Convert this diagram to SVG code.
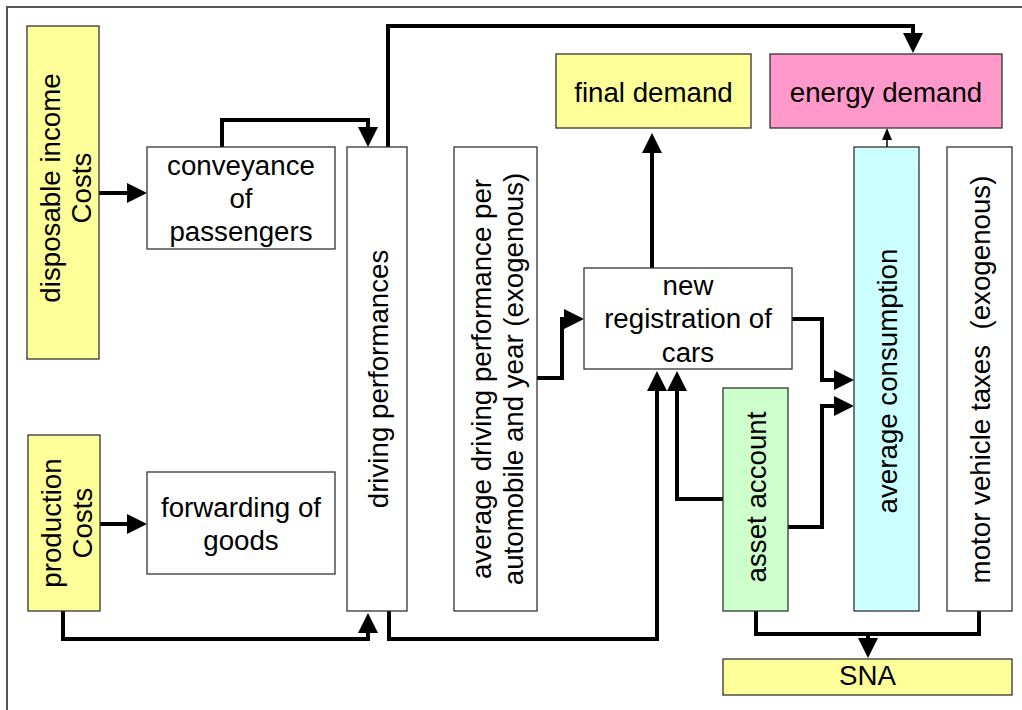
<svg xmlns="http://www.w3.org/2000/svg" width="1022" height="710" viewBox="0 0 1022 710">
<style>
  .bg { fill: #ffffff; }
  .frame { fill: none; stroke: #555555; stroke-width: 2; }
  .box { stroke: #333333; stroke-width: 1.3; }
  .white { fill: #ffffff; }
  .yellow { fill: #ffff99; }
  .pink { fill: #ff99cc; }
  .cyan { fill: #ccffff; }
  .green { fill: #ccffcc; }
  .lbl { font-family: "Liberation Sans", Arial, sans-serif; font-size: 27.7px; fill: #000000; text-anchor: middle; }
  .conn { fill: none; stroke: #000000; stroke-width: 4; stroke-linejoin: miter; stroke-linecap: butt; }
  .thin { fill: none; stroke: #000000; stroke-width: 1.5; }
</style>
<defs>
  <marker id="arr" markerUnits="userSpaceOnUse" markerWidth="20" markerHeight="20" refX="0" refY="10" orient="auto" viewBox="0 0 20 20">
    <path d="M0,0 L20,10 L0,20 Z" fill="#000000"/>
  </marker>
  <marker id="arrSmall" markerUnits="userSpaceOnUse" markerWidth="12" markerHeight="10" refX="0" refY="5" orient="auto" viewBox="0 0 12 10">
    <path d="M0,0 L12,5 L0,10 Z" fill="#000000"/>
  </marker>
</defs>
<rect class="bg" x="0" y="0" width="1022" height="710"/>
<path class="frame" d="M7,710 V7 H1022"/>

<g id="connectors">
  <path class="conn" d="M99,193 H127" marker-end="url(#arr)"/>
  <path class="conn" d="M100,524 H127" marker-end="url(#arr)"/>
  <path class="conn" d="M222,147 V120 H368 V127" marker-end="url(#arr)"/>
  <path class="conn" d="M63,611 V639 H368 V633" marker-end="url(#arr)"/>
  <path class="conn" d="M388,147 V26 H913 V33" marker-end="url(#arr)"/>
  <path class="conn" d="M389,611 V639 H657 V391" marker-end="url(#arr)"/>
  <path class="conn" d="M537,378 H562 V319 H564" marker-end="url(#arr)"/>
  <path class="conn" d="M652,268 V153" marker-end="url(#arr)"/>
  <path class="conn" d="M723,499 H677 V391" marker-end="url(#arr)"/>
  <path class="conn" d="M792,319 H822 V380 H834" marker-end="url(#arr)"/>
  <path class="conn" d="M788,527 H822 V406 H834" marker-end="url(#arr)"/>
  <path class="thin" d="M887,147 V140" marker-end="url(#arrSmall)"/>
  <path class="conn" d="M756,611 V634 H979 V611"/>
  <path class="conn" d="M868,634 V638" marker-end="url(#arr)"/>
</g>

<g id="disposable-income">
  <rect class="box yellow" x="27" y="26" width="72" height="333"/>
  <text class="lbl" transform="rotate(-90)"><tspan x="-188" y="60">disposable income</tspan><tspan x="-188" y="91">Costs</tspan></text>
</g>
<g id="production">
  <rect class="box yellow" x="28" y="435" width="72" height="176"/>
  <text class="lbl" transform="rotate(-90)"><tspan x="-523" y="61">production</tspan><tspan x="-523" y="92">Costs</tspan></text>
</g>
<g id="conveyance">
  <rect class="box white" x="147" y="147" width="188" height="102"/>
  <text class="lbl"><tspan x="241" y="175">conveyance</tspan><tspan x="241" y="208">of</tspan><tspan x="241" y="241">passengers</tspan></text>
</g>
<g id="forwarding">
  <rect class="box white" x="147" y="472" width="188" height="102"/>
  <text class="lbl"><tspan x="241" y="517">forwarding of</tspan><tspan x="241" y="550">goods</tspan></text>
</g>
<g id="driving-performances">
  <rect class="box white" x="347" y="147" width="60" height="464"/>
  <text class="lbl" transform="rotate(-90)" x="-379" y="388">driving performances</text>
</g>
<g id="average-driving">
  <rect class="box white" x="454" y="147" width="83" height="464"/>
  <text class="lbl" transform="rotate(-90)"><tspan x="-379" y="491">average driving performance per</tspan><tspan x="-379" y="523">automobile and year (exogenous)</tspan></text>
</g>
<g id="final-demand">
  <rect class="box yellow" x="556" y="54" width="195" height="74"/>
  <text class="lbl" x="653.5" y="102">final demand</text>
</g>
<g id="energy-demand">
  <rect class="box pink" x="770" y="54" width="232" height="74"/>
  <text class="lbl" x="886" y="102">energy demand</text>
</g>
<g id="new-registration">
  <rect class="box white" x="584" y="268" width="208" height="101"/>
  <text class="lbl"><tspan x="688" y="295">new</tspan><tspan x="688" y="328">registration of</tspan><tspan x="688" y="362">cars</tspan></text>
</g>
<g id="asset-account">
  <rect class="box green" x="723" y="388" width="65" height="223"/>
  <text class="lbl" transform="rotate(-90)" x="-497" y="766">asset account</text>
</g>
<g id="average-consumption">
  <rect class="box cyan" x="854" y="147" width="65" height="464"/>
  <text class="lbl" transform="rotate(-90)" x="-381" y="897">average consumption</text>
</g>
<g id="motor-vehicle-taxes">
  <rect class="box white" x="947" y="147" width="65" height="464"/>
  <text class="lbl" transform="rotate(-90)" x="-379.5" y="990" xml:space="preserve">motor vehicle taxes  (exogenous)</text>
</g>
<g id="sna">
  <rect class="box yellow" x="723" y="659" width="289" height="36"/>
  <text class="lbl" x="867.5" y="685">SNA</text>
</g>
</svg>
